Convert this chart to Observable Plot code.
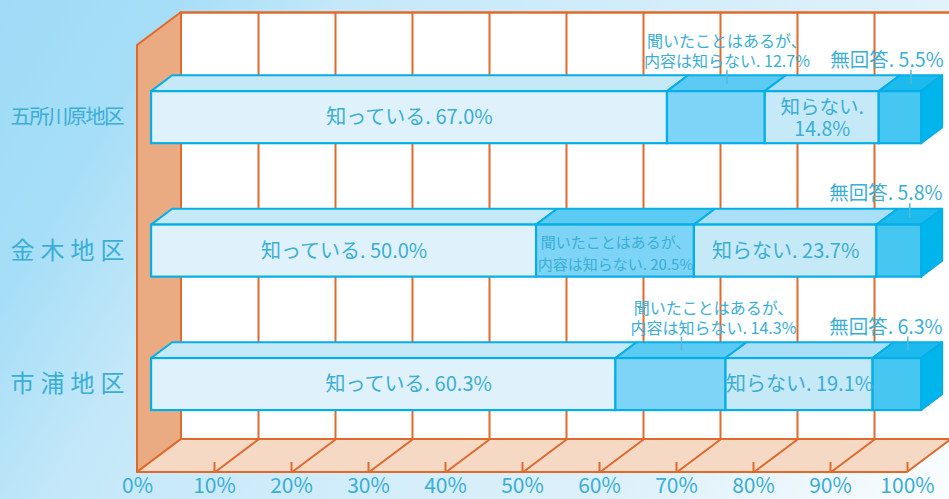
<!DOCTYPE html>
<html><head><meta charset="utf-8">
<script src="https://cdn.jsdelivr.net/npm/d3@7"></script>
<script src="https://cdn.jsdelivr.net/npm/@observablehq/plot@0.6"></script>
<style>
html,body{margin:0;padding:0;background:#fff;}
#chart svg{display:block;}
</style></head><body><div id="chart"></div>
<script>
// ---- data ----
const regions = ["五所川原地区", "金木地区", "市浦地区"];
const categories = ["知っている", "聞いたことはあるが、内容は知らない", "知らない", "無回答"];
const known = [67.0, 50.0, 60.3];
const heardOnly = [12.7, 20.5, 14.3];
const unknown = [14.8, 23.7, 19.1];
const noAnswer = [5.5, 5.8, 6.3];
const tickValues = [0, 10, 20, 30, 40, 50, 60, 70, 80, 90, 100];
const tickLabels = ["0%", "10%", "20%", "30%", "40%", "50%", "60%", "70%", "80%", "90%", "100%"];

// ---- style ----
const frontColors = ["#dff2fb", "#7dd4f6", "#c6e9f8", "#45c7f2"];
const topColors = ["#c6e9f8", "#5ccbf4", "#a9e0f8", "#1dbaee"];
const sideColor = "#00b5ec";
const barStroke = "#06aee8";
const gridColor = "#e0692c";
const wallColor = "#ebab82";
const floorColor = "#f6d9c5";
const textColor = "#3aaed6";
const leaderColor = "#5ab6d6";
const FONT = "'Noto Sans CJK JP', 'Noto Sans', sans-serif";

// label layout per region / category (horizontal nudges in pixels)
const labelMode = [
  ["in", "above", "in2", "above"],
  ["in", "inSmall", "in", "above"],
  ["in", "above", "in", "above"]
];
const labelShift = [
  [0, 0, 0, -24],
  [0, 0, 0, -24],
  [25, 32, 0, -22]
];

// ---- pseudo-3D geometry in scale units ----
const FRAME = 3.2;          // frame height in rows
const ROW0 = 0.62;          // first row centre
const HALF = 0.195;         // half bar height (rows)
const DX = 5.714;           // full depth along x (percent units)
const DY = 0.2473;          // full depth along y (row units)
const D0 = 0.32, D1 = 0.8, DM = (D0 + D1) / 2;
const PX_PER_PCT = (949 - 137 - 42) / 100;

const series = [known, heardOnly, unknown, noAnswer];
const segs = [];
regions.forEach((r, i) => {
  let acc = 0;
  series.forEach((s, j) => {
    segs.push({id: segs.length, row: i, cat: j, a: acc, b: acc + s[i], v: s[i],
               mode: labelMode[i][j], shift: labelShift[i][j] / PX_PER_PCT});
    acc += s[i];
  });
});
const center = i => ROW0 + i;
const topY = (i, d) => center(i) - HALF - d * DY;
const botY = (i, d) => center(i) + HALF - d * DY;

const topPts = segs.flatMap(s => [
  {id: s.id, cat: s.cat, y: topY(s.row, D0), x1: s.a + D0 * DX, x2: s.b + D0 * DX},
  {id: s.id, cat: s.cat, y: topY(s.row, D1), x1: s.a + D1 * DX, x2: s.b + D1 * DX}
]);
const lastSegs = segs.filter(s => s.cat === categories.length - 1);
const sidePts = lastSegs.flatMap(s => [
  {id: s.id, x: s.b + D0 * DX, y1: topY(s.row, D0), y2: botY(s.row, D0)},
  {id: s.id, x: s.b + D1 * DX, y1: topY(s.row, D1), y2: botY(s.row, D1)}
]);

function labelText(s) {
  const name = categories[s.cat];
  const val = s.v.toFixed(1) + "%";
  if (s.mode === "in2") return name + ".\n" + val;
  return name.replace("、", "、\n") + ". " + val;
}
const inside = segs.filter(s => s.mode === "in" || s.mode === "in2" || s.mode === "inSmall");
const above = segs.filter(s => s.mode === "above");
const LEAD = 0.105;

const marks = [];
// back wall
marks.push(Plot.rect([0], {x1: DX, x2: 100 + DX, y1: -DY, y2: FRAME - DY, fill: "white"}));
marks.push(Plot.ruleX(tickValues.slice(1), {x: d => d + DX, y1: -DY, y2: FRAME - DY, stroke: gridColor, strokeWidth: 2}));
marks.push(Plot.ruleY([-DY], {x1: DX, x2: 100 + DX, stroke: gridColor, strokeWidth: 2.5}));
// left wall
marks.push(Plot.areaY([{x: 0, y1: 0, y2: FRAME}, {x: DX, y1: -DY, y2: FRAME - DY}],
  {x: "x", y1: "y1", y2: "y2", fill: wallColor, stroke: gridColor, strokeWidth: 2, strokeLinejoin: "round"}));
// floor
marks.push(Plot.areaX([{y: FRAME, x1: 0, x2: 100}, {y: FRAME - DY, x1: DX, x2: 100 + DX}],
  {y: "y", x1: "x1", x2: "x2", fill: floorColor, stroke: gridColor, strokeWidth: 2, strokeLinejoin: "round"}));
marks.push(Plot.link(tickValues.slice(1, -1), {x1: d => d, y1: FRAME, x2: d => d + DX, y2: FRAME - DY, stroke: gridColor, strokeWidth: 2}));
marks.push(Plot.ruleX(tickValues.slice(1), {x: d => d, y1: FRAME, y2: FRAME - 0.075, stroke: gridColor, strokeWidth: 2}));

// bars
categories.forEach((c, j) => {
  marks.push(Plot.areaX(topPts.filter(p => p.cat === j),
    {y: "y", x1: "x1", x2: "x2", z: "id", fill: topColors[j], stroke: barStroke, strokeWidth: 2, strokeLinejoin: "round"}));
});
categories.forEach((c, j) => {
  marks.push(Plot.rect(segs.filter(s => s.cat === j), {
    x1: s => s.a + D0 * DX, x2: s => s.b + D0 * DX,
    y1: s => topY(s.row, D0), y2: s => botY(s.row, D0),
    fill: frontColors[j], stroke: barStroke, strokeWidth: 2.2}));
});
marks.push(Plot.areaY(sidePts, {x: "x", y1: "y1", y2: "y2", z: "id", fill: sideColor, stroke: barStroke, strokeWidth: 2, strokeLinejoin: "round"}));

// leaders
marks.push(Plot.link(above, {
  x1: s => (s.a + s.b) / 2 + DM * DX, x2: s => (s.a + s.b) / 2 + DM * DX,
  y1: s => topY(s.row, DM), y2: s => topY(s.row, DM) - LEAD,
  stroke: leaderColor, strokeWidth: 1.5}));

// labels inside bars
const inX = s => (s.a + s.b) / 2 + D0 * DX + s.shift;
const inY = s => center(s.row) - D0 * DY;
marks.push(Plot.text(inside.filter(s => s.mode === "in"), {x: inX, y: inY, text: labelText,
  fontSize: 20, fill: textColor, fontFamily: FONT}));
marks.push(Plot.text(inside.filter(s => s.mode === "in2"), {x: inX, y: inY, text: labelText,
  fontSize: 19.5, lineHeight: 1.15, fill: textColor, fontFamily: FONT}));
marks.push(Plot.text(inside.filter(s => s.mode === "inSmall"), {x: inX, y: inY, dy: 1, text: labelText,
  fontSize: 15, lineHeight: 1.45, fill: textColor, fontFamily: FONT}));
// labels above bars
const abX = s => (s.a + s.b) / 2 + DM * DX + s.shift;
const abY = s => topY(s.row, DM) - LEAD;
marks.push(Plot.text(above.filter(s => s.cat === 1), {x: abX, y: abY, dy: -3, text: labelText,
  lineAnchor: "bottom", fontSize: 16, lineHeight: 1.25, fill: textColor, fontFamily: FONT}));
marks.push(Plot.text(above.filter(s => s.cat === 3), {x: abX, y: abY, dy: -3, text: labelText,
  lineAnchor: "bottom", fontSize: 19.5, fill: textColor, fontFamily: FONT}));

// region labels
marks.push(Plot.text(regions, {x: 0, y: (d, i) => center(i) - D0 * DY, dx: -127, textAnchor: "start",
  text: d => d, fontSize: d => d.length > 4 ? 20.5 : 24, fill: textColor, fontFamily: FONT,
  ariaDescription: "regions"}));
// x tick labels
marks.push(Plot.text(tickValues, {x: d => d, y: FRAME, dy: 14, text: (d, i) => tickLabels[i],
  fontSize: 21, fill: textColor, fontFamily: FONT}));

const chart = Plot.plot({
  width: 949, height: 499,
  marginLeft: 137, marginRight: 42, marginTop: 45, marginBottom: 27,
  x: {domain: [0, 100], axis: null},
  y: {domain: [0, FRAME], reverse: true, axis: null},
  style: {background: "linear-gradient(120deg, #9edbf6 0%, #a6def7 14%, #c4e8f9 28%, #dff1fa 75%, #fafdfe 100%)",
          fontFamily: FONT, overflow: "visible"},
  marks
});
document.getElementById("chart").appendChild(chart);
d3.select(chart).selectAll('g[aria-description="regions"] text')
  .attr("textLength", 114).attr("lengthAdjust", "spacing");
</script></body></html>
